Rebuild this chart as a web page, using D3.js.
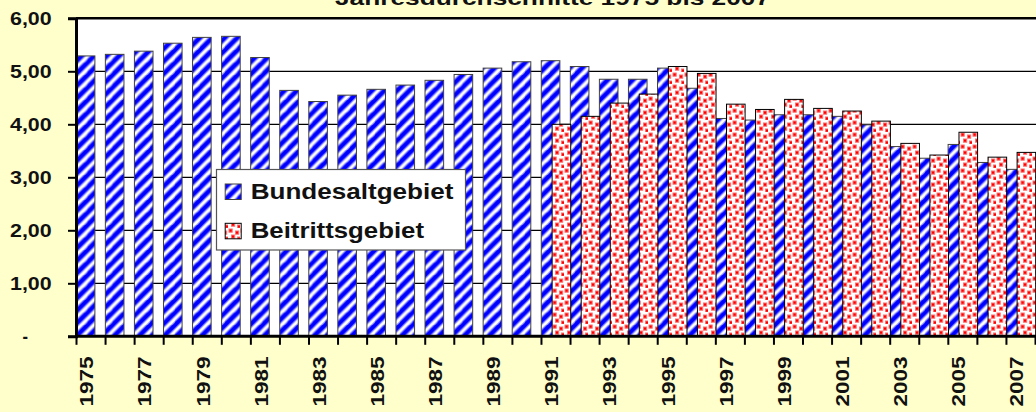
<!DOCTYPE html>
<html>
<head>
<meta charset="utf-8">
<script src="https://cdn.jsdelivr.net/npm/d3@7"></script>
<style>
  body { margin: 0; background: #ffffcc; }
  svg { display: block; font-family: "Liberation Sans", Arial, sans-serif; font-weight: bold; }
</style>
</head>
<body>
<div id="chart-area"></div>
<script>
// data
const years = d3.range(1975, 2008);
const west = [5.29, 5.32, 5.38, 5.53, 5.64, 5.66, 5.26, 4.64, 4.43, 4.55, 4.66, 4.74, 4.83, 4.94, 5.06, 5.18,
  5.20, 5.09, 4.85, 4.85, 5.06, 4.68, 4.11, 4.08, 4.18, 4.18, 4.15, 3.99, 3.58, 3.36, 3.62, 3.28, 3.15];
const eastYears = d3.range(1991, 2008);
const east = [4.00, 4.15, 4.40, 4.57, 5.09, 4.96, 4.38, 4.28, 4.47, 4.30, 4.25, 4.06, 3.64, 3.42, 3.85, 3.38, 3.47];
const yTicks = [0, 1, 2, 3, 4, 5, 6];
const xLabelYears = years.filter(d => (d - 1975) % 2 === 0);
const seriesNames = ["Bundesaltgebiet", "Beitrittsgebiet"];
const title = "Jahresdurchschnitte 1975 bis 2007";

const W = 1036, H = 412;
const plot = {left: 76, right: 1035, top: 18.3, bottom: 336.3};

const svg = d3.select("#chart-area").append("svg")
  .attr("width", W)
  .attr("height", H);

svg.append("rect").attr("width", W).attr("height", H).attr("fill", "#ffffcc");

// patterns
const defs = svg.append("defs");
const stripes = defs.append("pattern")
  .attr("id", "stripes")
  .attr("patternUnits", "userSpaceOnUse")
  .attr("width", 12.5).attr("height", 12.5);
stripes.append("rect").attr("width", 12.5).attr("height", 12.5).attr("fill", "#fff");
const stripePath = "M-3,3 L3,-3 M0,12.5 L12.5,0 M9.5,16 L16,9.5";
stripes.append("path").attr("d", stripePath).attr("stroke", "#8c8cff").attr("stroke-width", 6.4);
stripes.append("path").attr("d", stripePath).attr("stroke", "#0000ff").attr("stroke-width", 4);

const confetti = defs.append("pattern")
  .attr("id", "confetti")
  .attr("patternUnits", "userSpaceOnUse")
  .attr("width", 12).attr("height", 12);
confetti.append("rect").attr("width", 12).attr("height", 12).attr("fill", "#fff");
[[1, 1], [7.5, 3], [3.5, 7], [9.5, 9]].forEach(p => {
  confetti.append("rect")
    .attr("x", p[0]).attr("y", p[1])
    .attr("width", 3.2).attr("height", 3.2)
    .attr("fill", "#ff0000")
    .attr("stroke", "#ff7070")
    .attr("stroke-width", 1);
});

// scales
const x = d3.scaleBand().domain(years).range([plot.left, plot.right]).padding(0);
const xl = d3.scaleLinear().domain([0, years.length]).range([plot.left, plot.right]);
const y = d3.scaleLinear().domain([0, 6]).range([plot.bottom, plot.top]);
const cw = x.bandwidth();
const bw = cw * 0.64;

// plot area
svg.append("rect")
  .attr("x", plot.left).attr("y", plot.top)
  .attr("width", plot.right - plot.left + 5).attr("height", plot.bottom - plot.top)
  .attr("fill", "#fff");

// gridlines
svg.append("g")
  .selectAll("line")
  .data(yTicks.slice(1, 6))
  .join("line")
  .attr("x1", plot.left).attr("x2", W)
  .attr("y1", d => y(d)).attr("y2", d => y(d))
  .attr("stroke", "#000").attr("stroke-width", 1.2);

// bars
svg.append("g")
  .selectAll("rect")
  .data(years.map((d, i) => ({year: d, v: west[i]})))
  .join("rect")
  .attr("x", d => x(d.year) + 0.3)
  .attr("y", d => y(d.v))
  .attr("width", bw)
  .attr("height", d => y(0) - y(d.v))
  .attr("fill", "url(#stripes)")
  .attr("stroke", "#404040")
  .attr("stroke-width", 1);

svg.append("g")
  .selectAll("rect")
  .data(eastYears.map((d, i) => ({year: d, v: east[i]})))
  .join("rect")
  .attr("x", d => x(d.year) + cw - bw + 0.7)
  .attr("y", d => y(d.v))
  .attr("width", bw)
  .attr("height", d => y(0) - y(d.v))
  .attr("fill", "url(#confetti)")
  .attr("stroke", "#000")
  .attr("stroke-width", 1);

// top border
svg.append("line")
  .attr("x1", plot.left).attr("x2", W)
  .attr("y1", plot.top).attr("y2", plot.top)
  .attr("stroke", "#000").attr("stroke-width", 2.5);

// y axis
const yAxis = svg.append("g")
  .attr("transform", "translate(" + plot.left + ",0)")
  .call(d3.axisLeft(y).tickValues(yTicks).tickSize(8).tickPadding(0)
    .tickFormat(d => d === 0 ? "-" : d3.format(".2f")(d).replace(".", ",")));
yAxis.select(".domain").attr("stroke-width", 3);
yAxis.selectAll(".tick line").attr("stroke-width", 2);
yAxis.selectAll(".tick text")
  .attr("x", d => d === 0 ? -48 : -24.3)
  .attr("dy", null)
  .attr("y", 6.4)
  .attr("fill", "#111")
  .attr("font-size", 18)
  .attr("font-family", "Liberation Sans, Arial, sans-serif")
  .attr("text-anchor", "end")
  .attr("textLength", d => d === 0 ? 5.5 : 41.7)
  .attr("lengthAdjust", "spacingAndGlyphs");

// x axis
const xAxis = svg.append("g")
  .attr("transform", "translate(0," + plot.bottom + ")")
  .call(d3.axisBottom(xl).tickValues(d3.range(0, years.length + 1)).tickSize(8.5).tickFormat(""));
xAxis.select(".domain").attr("stroke-width", 3).attr("d", "M" + plot.left + ",0H" + W);
xAxis.selectAll(".tick line").attr("stroke-width", 2);

svg.append("g")
  .selectAll("text")
  .data(xLabelYears)
  .join("text")
  .attr("transform", d => "translate(" + (x(d) + cw / 2 + 2.8) + ",356.5) rotate(-90)")
  .attr("text-anchor", "end")
  .attr("font-size", 18.5)
  .attr("fill", "#111")
  .attr("textLength", 50)
  .attr("lengthAdjust", "spacingAndGlyphs")
  .text(d => d);

// title (cut off at the top, as in the original)
svg.append("text")
  .attr("x", 335)
  .attr("y", 5)
  .attr("font-size", 21)
  .attr("fill", "#111")
  .attr("textLength", 435)
  .attr("lengthAdjust", "spacingAndGlyphs")
  .text(title);

// legend
const legend = svg.append("g");
legend.append("rect")
  .attr("x", 216.5).attr("y", 169.5)
  .attr("width", 249).attr("height", 80.5)
  .attr("fill", "#fff")
  .attr("stroke", "#555").attr("stroke-width", 1.2);
const legendRows = [
  {name: seriesNames[0], fill: "url(#stripes)", stroke: "#404040", top: 184, width: 202.7},
  {name: seriesNames[1], fill: "url(#confetti)", stroke: "#000", top: 223.3, width: 173.3}
];
legendRows.forEach(r => {
  legend.append("rect")
    .attr("x", 225.2).attr("y", r.top)
    .attr("width", 16).attr("height", 15.5)
    .attr("fill", r.fill)
    .attr("stroke", r.stroke).attr("stroke-width", 1);
  legend.append("text")
    .attr("x", 250.7).attr("y", r.top + 14.5)
    .attr("font-size", 22.5)
    .attr("fill", "#111")
    .attr("textLength", r.width)
    .attr("lengthAdjust", "spacingAndGlyphs")
    .text(r.name);
});
</script>
</body>
</html>
